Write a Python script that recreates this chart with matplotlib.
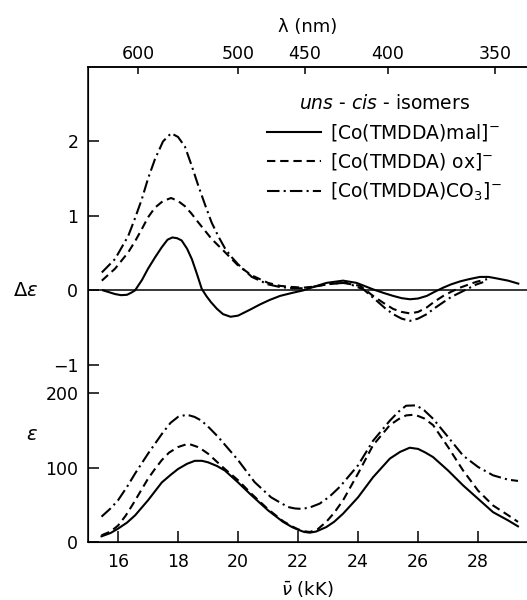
import numpy as np
import matplotlib
matplotlib.use('Agg')
import matplotlib.pyplot as plt
from matplotlib.lines import Line2D

plt.rcParams['font.family'] = 'DejaVu Sans'
plt.rcParams['mathtext.fontset'] = 'dejavusans'
plt.rcParams['lines.scale_dashes'] = False

# CD spectra (delta epsilon) vs wavenumber (kK)
cd_mal_x = [15.5, 15.7, 15.9, 16.1, 16.3, 16.45, 16.57, 16.8, 17.0, 17.23, 17.46, 17.65, 17.81,
            17.97, 18.12, 18.3, 18.46, 18.63, 18.79, 18.95, 19.1, 19.3, 19.5, 19.75, 20.0, 20.4,
            20.73, 21.05, 21.4, 21.8, 22.18, 22.55, 22.95, 23.5, 23.95, 24.5, 24.85, 25.17, 25.45,
            25.73, 26.0, 26.29, 26.55, 26.84, 27.1, 27.4, 27.7, 28.06, 28.35, 28.62, 29.0, 29.34]
cd_mal_y = [0.0, -0.025, -0.05, -0.065, -0.06, -0.03, 0.0, 0.14, 0.29, 0.44, 0.58, 0.68, 0.71,
            0.7, 0.67, 0.56, 0.42, 0.22, 0.02, -0.08, -0.16, -0.25, -0.32, -0.355, -0.34, -0.26,
            -0.19, -0.13, -0.075, -0.035, 0.0, 0.05, 0.1, 0.13, 0.1, 0.013, -0.035, -0.075, -0.105,
            -0.12, -0.11, -0.075, -0.02, 0.036, 0.08, 0.12, 0.15, 0.18, 0.18, 0.16, 0.13, 0.09]

cd_ox_x = [15.46, 15.9, 16.34, 16.57, 16.79, 17.0, 17.23, 17.5, 17.77, 18.0, 18.23, 18.45, 18.68,
           19.12, 19.57, 20.01, 20.46, 21.0, 21.4, 21.8, 22.18, 22.55, 22.95, 23.5, 24.07, 24.5,
           24.85, 25.17, 25.45, 25.73, 26.0, 26.29, 26.55, 26.84, 27.1, 27.4, 27.7, 27.95, 28.3]
cd_ox_y = [0.13, 0.29, 0.51, 0.66, 0.82, 0.98, 1.11, 1.2, 1.24, 1.2, 1.13, 1.03, 0.91,
           0.69, 0.51, 0.33, 0.2, 0.1, 0.06, 0.045, 0.036, 0.05, 0.08, 0.1, 0.06, -0.075,
           -0.17, -0.25, -0.29, -0.31, -0.29, -0.23, -0.15, -0.075, -0.02, 0.036, 0.08, 0.115, 0.15]

cd_co3_x = [15.46, 15.9, 16.34, 16.55, 16.79, 17.0, 17.23, 17.5, 17.77, 18.0, 18.23, 18.45, 18.68,
            18.9, 19.12, 19.35, 19.57, 19.8, 20.0, 20.46, 21.0, 21.4, 21.8, 22.18, 22.55, 22.95,
            23.3, 23.62, 24.18, 24.62, 24.9, 25.17, 25.45, 25.73, 26.0, 26.29, 26.55, 26.84, 27.1,
            27.4, 27.7, 27.95, 28.17]
cd_co3_y = [0.24, 0.42, 0.73, 0.95, 1.22, 1.5, 1.76, 2.0, 2.11, 2.06, 1.93, 1.68, 1.4,
            1.15, 0.91, 0.72, 0.56, 0.44, 0.35, 0.18, 0.08, 0.044, 0.03, 0.027, 0.05, 0.08,
            0.095, 0.1, 0.013, -0.14, -0.24, -0.32, -0.38, -0.41, -0.38, -0.32, -0.24, -0.16, -0.09,
            -0.03, 0.03, 0.08, 0.11]

# absorption spectra (epsilon)
ab_mal_x = [15.45, 15.75, 16.0, 16.3, 16.57, 17.0, 17.46, 17.75, 18.0, 18.3, 18.56, 18.8, 19.0,
            19.3, 19.56, 20.0, 20.44, 21.0, 21.5, 21.8, 22.0, 22.2, 22.39, 22.6, 22.94, 23.2,
            23.5, 24.0, 24.5, 25.06, 25.4, 25.72, 26.0, 26.25, 26.5, 27.0, 27.5, 28.0, 28.5,
            29.0, 29.33]
ab_mal_y = [7.6, 12, 17.9, 26, 35.8, 56, 80, 90, 98, 105, 109, 109, 107,
            102, 96, 80, 63, 42.5, 27, 20, 16.5, 13.5, 12.5, 14, 20, 27,
            38, 60, 87, 112, 121, 126.6, 125, 120, 114, 96, 76, 58, 40,
            29, 21]

ab_ox_x = [15.45, 15.75, 16.0, 16.25, 16.5, 16.75, 17.0, 17.23, 17.46, 17.7, 18.0, 18.34, 18.7,
           19.0, 19.56, 20.0, 20.44, 21.0, 21.5, 21.8, 22.0, 22.2, 22.39, 22.65, 22.94, 23.2,
           23.5, 24.0, 24.5, 25.06, 25.35, 25.6, 25.89, 26.2, 26.5, 27.0, 27.5, 28.0, 28.5,
           29.0, 29.33]
ab_ox_y = [9, 14, 22, 35, 51, 68, 85, 98, 110, 120, 127.5, 132, 127,
           118.6, 98, 83, 65, 44, 28, 21, 17, 14.5, 13.4, 17, 27, 39,
           56, 92, 130, 157, 165, 170, 171, 166, 157, 127.5, 96, 69, 49,
           36, 27]

ab_co3_x = [15.45, 15.75, 16.0, 16.3, 16.57, 17.0, 17.46, 17.75, 18.0, 18.29, 18.55, 18.78, 19.05,
            19.34, 20.0, 20.55, 21.1, 21.66, 21.9, 22.1, 22.37, 22.72, 23.05, 23.39, 24.0, 24.5,
            25.06, 25.35, 25.6, 25.94, 26.2, 26.5, 27.0, 27.5, 28.0, 28.5, 29.0, 29.33]
ab_co3_y = [34, 45, 56, 74, 92, 118.6, 145, 160, 168, 171, 168, 163, 153,
            141, 110, 80.5, 60, 47, 45, 44.5, 46, 51.5, 61, 74, 103, 136,
            163, 175, 183, 183.5, 177, 165.5, 141, 116, 100.7, 89.5, 83.7, 82]

nu_ticks = [16, 18, 20, 22, 24, 26, 28]
lambda_ticks = [600, 500, 450, 400, 350]

labels = [r'[Co(TMDDA)mal]$^{-}$', r'[Co(TMDDA) ox]$^{-}$', r'[Co(TMDDA)CO$_3$]$^{-}$']

# both spectra share one y axis: delta-epsilon is shifted up and scaled
CD_OFFSET = 338
CD_SCALE = 100

DASHED = (0, (6, 3.5))
DASHDOT = (0, (9, 3, 1.5, 3))
styles = ['-', DASHED, DASHDOT]
LW = 1.5

fig = plt.figure(figsize=(5.27, 6), dpi=100)
ax = fig.add_axes([0.167, 0.0967, 0.833, 0.7917])

cd_sets = [(cd_mal_x, cd_mal_y), (cd_ox_x, cd_ox_y), (cd_co3_x, cd_co3_y)]
ab_sets = [(ab_mal_x, ab_mal_y), (ab_ox_x, ab_ox_y), (ab_co3_x, ab_co3_y)]

for (x, y), ls in zip(cd_sets, styles):
    ax.plot(x, CD_OFFSET + CD_SCALE * np.array(y), color='black', ls=ls, lw=LW)
for (x, y), ls in zip(ab_sets, styles):
    ax.plot(x, y, color='black', ls=ls, lw=LW)

ax.axhline(CD_OFFSET, color='black', lw=1.1)

ax.set_xlim(15.0, 29.63)
ax.set_ylim(0, 638)

yt = [0, 100, 200, CD_OFFSET - CD_SCALE, CD_OFFSET, CD_OFFSET + CD_SCALE, CD_OFFSET + 2 * CD_SCALE]
ax.set_yticks(yt)
ax.set_yticklabels(['0', '100', '200', '\u22121', '0', '1', '2'])
ax.set_xticks(nu_ticks)
ax.tick_params(axis='both', direction='in', length=8, width=1.1, labelsize=12.5, pad=8)
ax.tick_params(axis='y', pad=7)
ax.set_xlabel(r'$\bar{\nu}$ (kK)', fontsize=13, labelpad=6)

for side in ['left', 'bottom', 'top']:
    ax.spines[side].set_linewidth(1.1)
ax.spines['right'].set_visible(False)

ax.text(-0.143, CD_OFFSET, r'$\Delta\epsilon$', transform=ax.get_yaxis_transform(),
        ha='center', va='center', fontsize=14)
ax.text(-0.128, 145, r'$\epsilon$', transform=ax.get_yaxis_transform(),
        ha='center', va='center', fontsize=14)

# wavelength scale on top
top = ax.twiny()
top.set_xlim(ax.get_xlim())
top.set_xticks([1e4 / l for l in lambda_ticks])
top.set_xticklabels([str(l) for l in lambda_ticks])
top.tick_params(axis='x', direction='in', length=5, width=1.1, labelsize=12.5, pad=2.5)
top.set_xlabel('\u03bb (nm)', fontsize=13, labelpad=10)
top.spines['right'].set_visible(False)
top.spines['top'].set_linewidth(1.1)

handles = [Line2D([], [], color='black', ls=ls, lw=LW) for ls in styles]
leg = ax.legend(handles, labels, loc='upper right', bbox_to_anchor=(0.965, 0.962),
                frameon=False, fontsize=13.5, handlelength=2.9, handletextpad=0.5,
                labelspacing=0.45, borderpad=0,
                title=r'$\mathit{uns}$ - $\mathit{cis}$ - isomers', title_fontsize=13.5)

fig.savefig('out.png', dpi=100)
